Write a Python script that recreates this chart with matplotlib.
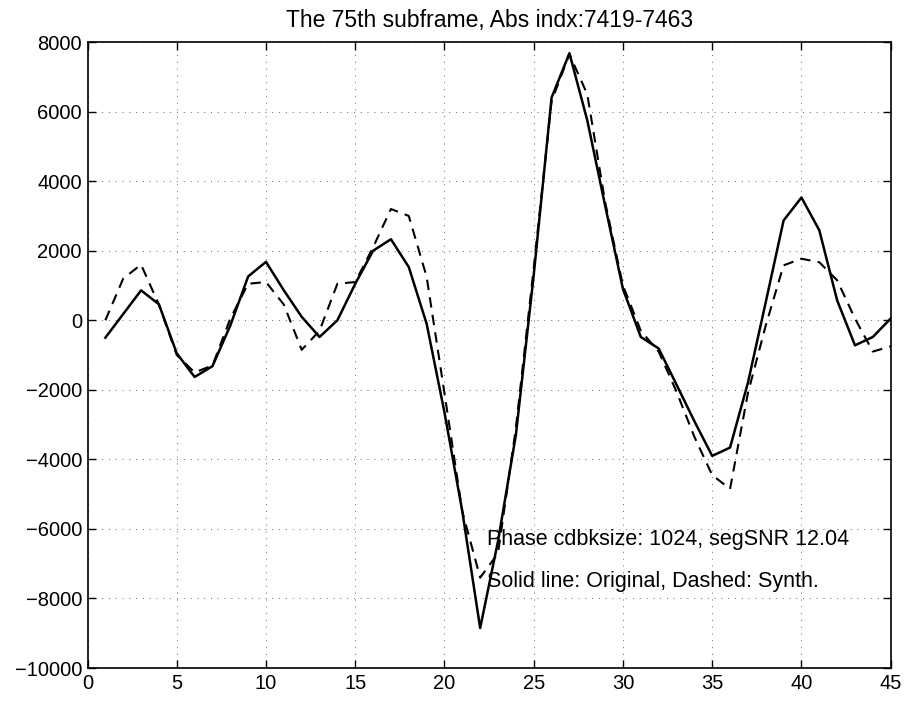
import matplotlib
matplotlib.use("Agg")
import matplotlib.pyplot as plt

plt.rcParams['font.family'] = ['Liberation Sans', 'DejaVu Sans']

x = list(range(1, 46))
original = [-500, 180, 860, 460, -950, -1630, -1320, -150, 1260, 1680,
            860, 100, -480, 0, 1050, 2000, 2330, 1530, -100, -2650,
            -5500, -8850, -6350, -3300, 1300, 6400, 7680, 5750, 3300, 900,
            -480, -810, -1850, -2900, -3900, -3660, -1800, 520, 2870, 3530,
            2590, 575, -720, -480, 50]
synth = [0, 1200, 1600, 450, -1000, -1500, -1300, 50, 1050, 1100,
         450, -850, -300, 1050, 1100, 2100, 3200, 3000, 1250, -2100,
         -5500, -7400, -6700, -3100, 1500, 6300, 7650, 6500, 3400, 1000,
         -300, -900, -2050, -3350, -4450, -4850, -2100, -150, 1580, 1770,
         1670, 1150, 50, -900, -750]
xticks = list(range(0, 46, 5))
yticks = list(range(-10000, 8001, 2000))
title = "The 75th subframe, Abs indx:7419-7463"
note1 = "Phase cdbksize: 1024, segSNR 12.04"
note2 = "Solid line: Original, Dashed: Synth."

fig = plt.figure(figsize=(9.07, 7.01), dpi=100)
ax = fig.add_axes([0.0965, 0.047, 0.8855, 0.893])
ax.plot(x, original, color='black', lw=1.8, ls='-')
ax.plot(x, synth, color='black', lw=1.5, ls=(0, (5, 3.5)))
ax.set_xlim(0, 45)
ax.set_ylim(-10000, 8000)
ax.set_xticks(xticks)
ax.set_yticks(yticks)
ax.tick_params(direction='in', top=True, right=True, length=6, width=1,
               labelsize=14.5, pad=4)
ax.grid(True, color='black', lw=0.7, ls=(0, (1, 6)), alpha=0.6)
for s in ax.spines.values():
    s.set_linewidth(1.2)
ax.set_title(title, fontsize=16.5, pad=11)
ax.text(22.4, -6300, note1, fontsize=15.5, va='center', ha='left')
ax.text(22.4, -7500, note2, fontsize=15.5, va='center', ha='left')
fig.savefig("out.png", dpi=100)
